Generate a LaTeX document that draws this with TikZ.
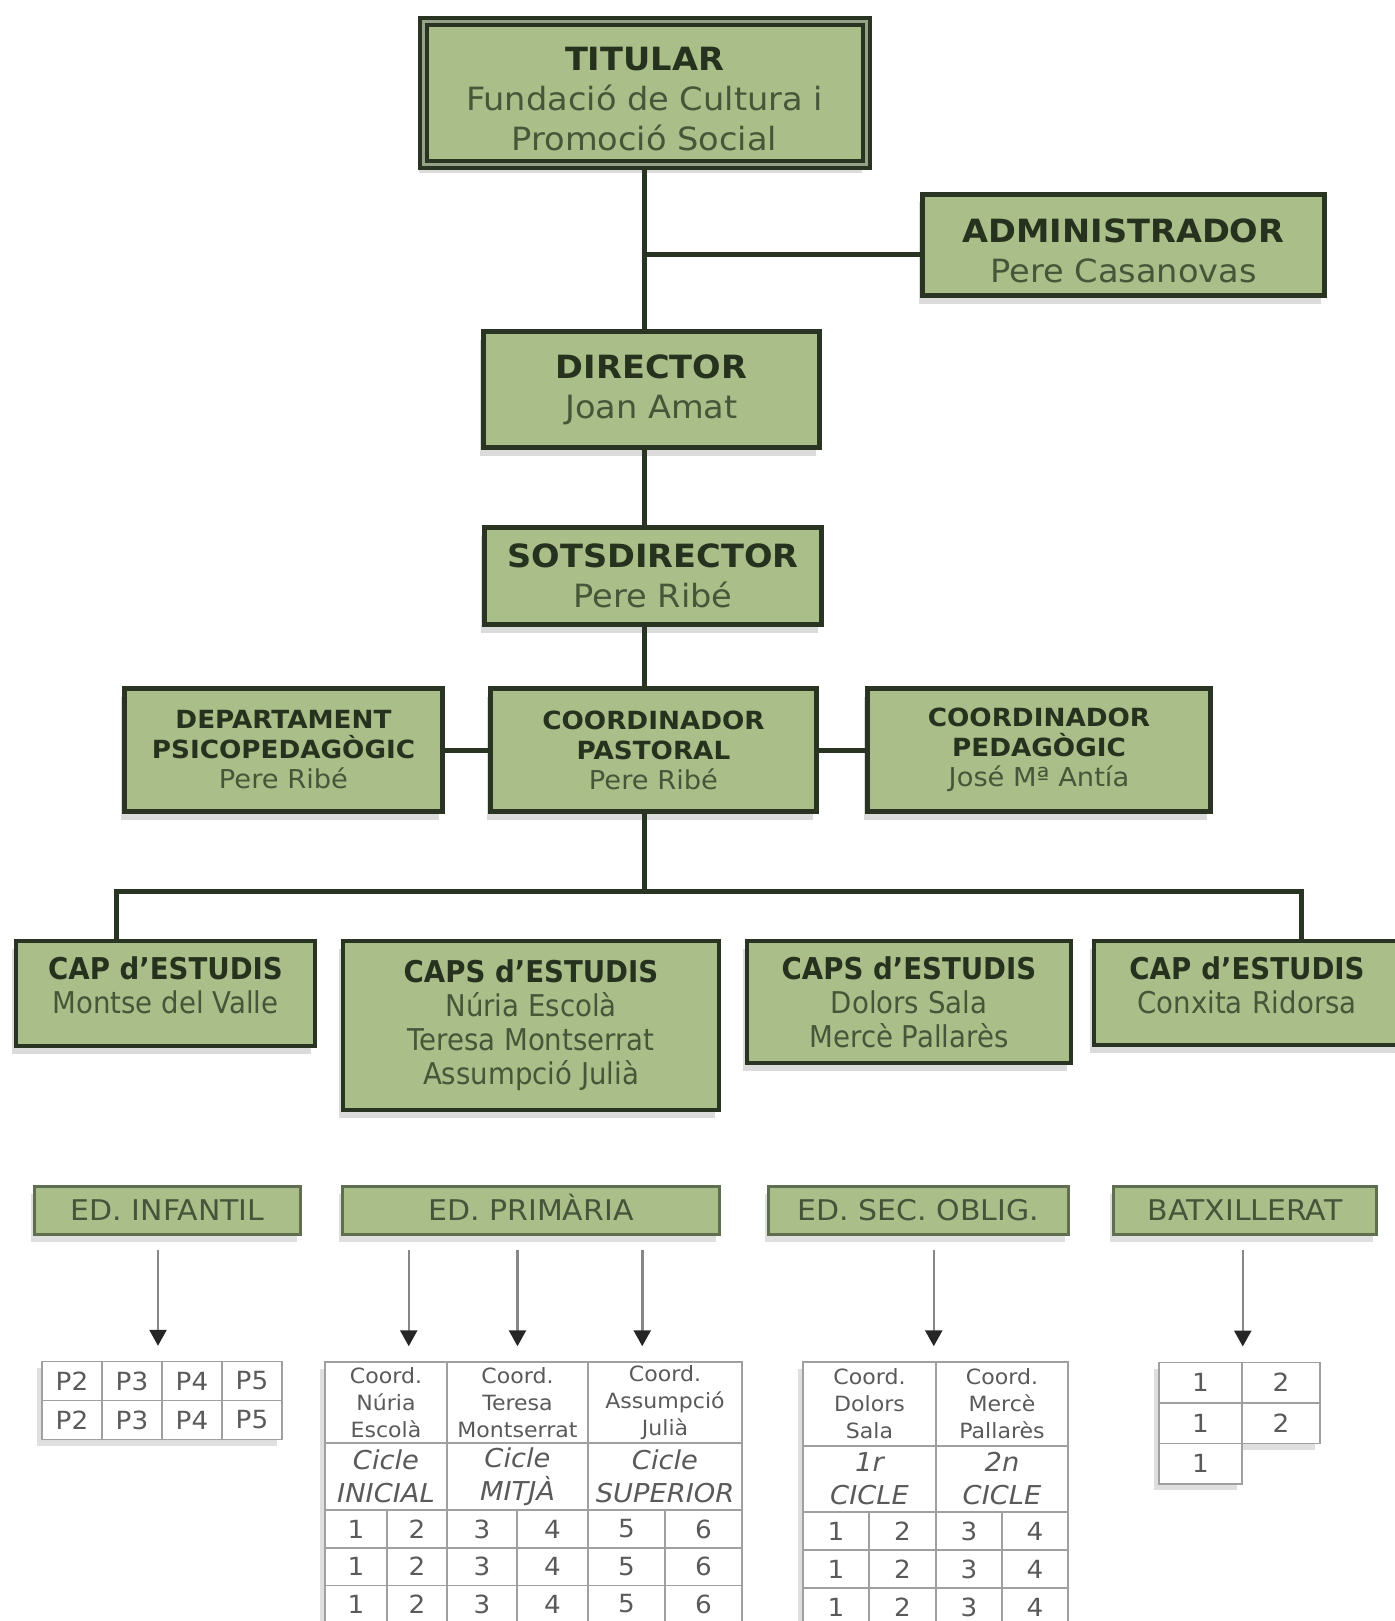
\documentclass[tikz,border=0pt]{standalone}
\usepackage{fontspec}
\setmainfont{DejaVu Sans}[FakeStretch=1.05]
\newfontfamily\capfont[FakeStretch=0.92]{DejaVu Sans}
\usetikzlibrary{arrows.meta,shadows}
\definecolor{boxfill}{RGB}{169,190,137}
\definecolor{boxline}{RGB}{42,52,34}
\definecolor{bandgray}{RGB}{150,162,136}
\definecolor{titletext}{RGB}{38,50,30}
\definecolor{nametext}{RGB}{70,86,56}
\definecolor{edline}{RGB}{96,110,80}
\definecolor{edtext}{RGB}{70,84,58}
\definecolor{gridgray}{RGB}{160,160,160}
\definecolor{celltext}{RGB}{90,90,90}
\definecolor{arrowgray}{RGB}{135,135,135}
\newcommand{\ttl}[1]{\textcolor{titletext}{\bfseries #1}}
\newcommand{\nm}[1]{{\fontsize{26}{30}\selectfont #1}}
\tikzset{orgbox/.style={draw=boxline,fill=boxfill,line width=4.5pt,align=center,
        inner sep=0pt,text=nametext,
        drop shadow={shadow xshift=-4pt,shadow yshift=-8pt,opacity=.28}},
    bigbox/.style={orgbox,font=\fontsize{32}{40}\selectfont},
    titlebox/.style={bigbox,line width=4pt,double=bandgray,double distance=3pt},
    midbox/.style={orgbox,font=\fontsize{25}{30}\selectfont},
    capbox/.style={orgbox,line width=4pt,font=\capfont\fontsize{30}{34}\selectfont},
    edbox/.style={draw=edline,fill=boxfill,line width=3pt,inner sep=0pt,text=edtext,
        font=\fontsize{28.5}{30}\selectfont,text height=21pt,text depth=1pt,
        drop shadow={shadow xshift=-4pt,shadow yshift=-7pt,opacity=.25}},
    link/.style={draw=boxline,line width=5pt},
    arr/.style={draw=arrowgray,line width=2.5pt,shorten <=14pt,shorten >=15pt,
        -{Triangle[width=17pt,length=16pt,color=black!85]}},
    tabframe/.style={fill=white,inner sep=0pt,
        drop shadow={shadow xshift=-5pt,shadow yshift=-7pt,opacity=.25}},
    cell/.style={draw=gridgray,line width=1.5pt,inner sep=0pt,text=celltext,align=center,
        font=\fontsize{25}{30}\selectfont},
    coordcell/.style={cell,font=\fontsize{21}{27}\selectfont},
    ciclecell/.style={cell,font=\itshape\fontsize{26}{33}\selectfont}}

\begin{document}
\begin{tikzpicture}[x=1pt,y=-1pt]
\useasboundingbox[fill=white] (0,0) rectangle (1394,1621);

% upper chart
\node[titlebox,minimum width=443pt,minimum height=143pt] (titular) at (644.5,93.5)
    {\rule{0pt}{34pt}\ttl{TITULAR}\\Fundació de Cultura i\\Promoció Social};
\node[bigbox,minimum width=402pt,minimum height=101pt] (admin) at (1123.5,245)
    {\rule{0pt}{36pt}\ttl{ADMINISTRADOR}\\Pere Casanovas};
\node[bigbox,minimum width=336pt,minimum height=116pt] (director) at (651.5,389.5)
    {\ttl{DIRECTOR}\\Joan Amat};
\node[bigbox,minimum width=337pt,minimum height=97pt] (sotsdir) at (653,576)
    {\ttl{SOTSDIRECTOR}\\Pere Ribé};
\node[midbox,minimum width=318pt,minimum height=123pt] (dept) at (283.5,750)
    {\ttl{DEPARTAMENT}\\\ttl{PSICOPEDAGÒGIC}\\\nm{Pere Ribé}};
\node[midbox,minimum width=326pt,minimum height=123pt] (pastoral) at (653.5,750)
    {\ttl{COORDINADOR}\\\ttl{PASTORAL}\\\nm{Pere Ribé}};
\node[midbox,minimum width=343pt,minimum height=123pt] (pedag) at (1039,750)
    {\ttl{COORDINADOR}\\\ttl{PEDAGÒGIC}\\\nm{José Mª Antía}};

\node[capbox,minimum width=299pt,minimum height=105pt] (capmontse) at (165.5,993.5)
    {\ttl{CAP d’ESTUDIS}\\Montse del Valle\\[-18pt]\mbox{}};
\node[capbox,minimum width=376pt,minimum height=169pt] (capsnuria) at (531,1025.5)
    {\ttl{CAPS d’ESTUDIS}\\Núria Escolà\\Teresa Montserrat\\Assumpció Julià};
\node[capbox,minimum width=324pt,minimum height=122pt] (capsdolors) at (909,1002)
    {\ttl{CAPS d’ESTUDIS}\\Dolors Sala\\Mercè Pallarès};
\node[capbox,minimum width=320pt,minimum height=104pt,text width=300pt] (capconxita) at (1254,993)
    {\hspace*{-14pt}\ttl{CAP d’ESTUDIS}\\\hspace*{-14pt}Conxita Ridorsa\\[-18pt]\mbox{}};

% connectors
\coordinate (adminjoin) at ([yshift=-10pt]titular.south |- admin.west);
\coordinate (busl) at (116,891);
\coordinate (busr) at (1301,891);
\draw[link] (titular.south) -- (titular.south |- director.north);
\draw[link] (adminjoin) -- (adminjoin -| admin.west);
\draw[link] (titular.south |- director.south) -- (titular.south |- sotsdir.north);
\draw[link] (titular.south |- sotsdir.south) -- (titular.south |- pastoral.north);
\draw[link] (dept) -- (pastoral);
\draw[link] (pastoral) -- (pedag);
\draw[link] (titular.south |- pastoral.south) -- (titular.south |- busl);
\draw[link] (busl |- capmontse.north) -- (busl) -- (busr) -- (busr |- capconxita.north);

% stages
\node[edbox,minimum width=266pt,minimum height=48pt] (infantil) at (167.5,1210.5) {ED. INFANTIL};
\node[edbox,minimum width=377pt,minimum height=48pt] (primaria) at (531,1210.5) {ED. PRIMÀRIA};
\node[edbox,minimum width=300pt,minimum height=48pt] (eso) at (918.5,1210.5) {ED. SEC. OBLIG.};
\node[edbox,minimum width=263pt,minimum height=48pt] (batx) at (1245,1210.5) {BATXILLERAT};

% infantil
\node[tabframe,minimum width=240pt,minimum height=78pt] (inftab) at (162,1400) {};
\foreach \lab [count=\i from 0] in {P2,P3,P4,P5}
    \foreach \r in {0,1}
        \node[cell,minimum width=60pt,minimum height=39pt] (inf-\i-\r) at (72+60*\i,1381+39*\r) {\lab};

% primaria
\node[tabframe,minimum width=417pt,minimum height=263pt] (primtab) at (533.5,1493.5) {};
\node[coordcell,minimum width=122pt,minimum height=81pt] (prim-c1) at (386,1402.5) {Coord.\\Núria\\Escolà};
\node[coordcell,minimum width=141pt,minimum height=81pt] (prim-c2) at (517.5,1402.5) {Coord.\\Teresa\\Montserrat};
\node[coordcell,minimum width=154pt,minimum height=81pt] (prim-c3) at (665,1402.5) {Coord.\\Assumpció\\Julià};
\node[ciclecell,minimum width=122pt,minimum height=67pt] (prim-k1) at (386,1476.5) {Cicle\\INICIAL};
\node[ciclecell,minimum width=141pt,minimum height=67pt] (prim-k2) at (517.5,1476.5) {Cicle\\MITJÀ};
\node[ciclecell,minimum width=154pt,minimum height=67pt] (prim-k3) at (665,1476.5) {Cicle\\SUPERIOR};
\foreach \x/\w/\n in {356/62/1,417/60/2,482/70/3,552.5/71/4,626.5/77/5,703.5/77/6}
    \foreach \r in {0,1,2}
        \node[cell,minimum width=\w pt,minimum height=37.5pt] (prim-\n-\r) at (\x,1529+37.5*\r) {\n};

% eso
\node[tabframe,minimum width=265pt,minimum height=264pt] (esotab) at (935.5,1494) {};
\node[coordcell,minimum width=133pt,minimum height=84pt] (eso-c1) at (869.5,1404) {Coord.\\Dolors\\Sala};
\node[coordcell,minimum width=132pt,minimum height=84pt] (eso-c2) at (1002,1404) {Coord.\\Mercè\\Pallarès};
\node[ciclecell,minimum width=133pt,minimum height=66pt] (eso-k1) at (869.5,1479) {1r\\CICLE};
\node[ciclecell,minimum width=132pt,minimum height=66pt] (eso-k2) at (1002,1479) {2n\\CICLE};
\foreach \x/\w/\n in {836/66/1,902.5/67/2,969/66/3,1035/66/4}
    \foreach \r in {0,1,2}
        \node[cell,minimum width=\w pt,minimum height=38pt] (eso-\n-\r) at (\x,1531+38*\r) {\n};

% batxillerat
\node[tabframe,minimum width=78pt,minimum height=81pt] (batxtabr) at (1281,1402.5) {};
\node[tabframe,minimum width=83pt,minimum height=121pt] (batxtab) at (1200.5,1422.5) {};
\foreach \r in {0,1,2}
    \node[cell,minimum width=83pt,minimum height=40.5pt] (batxl-\r) at (1200.5,1382.5+40.5*\r) {1};
\foreach \r in {0,1}
    \node[cell,minimum width=78pt,minimum height=40.5pt] (batxr-\r) at (1281,1382.5+40.5*\r) {2};

% arrows
\coordinate (infin) at ([xshift=-4pt]inftab.north);
\coordinate (primin1) at ([xshift=-39pt]prim-c1.north east);
\coordinate (primin3) at ([xshift=55pt]prim-c3.north west);
\coordinate (esoin) at ([xshift=-3pt]eso-c1.north east);
\draw[arr] (infantil.south -| infin) -- (infin);
\draw[arr] (primaria.south -| primin1) -- (primin1);
\draw[arr] (primaria.south -| prim-c2) -- (prim-c2.north);
\draw[arr] (primaria.south -| primin3) -- (primin3);
\draw[arr] (eso.south -| esoin) -- (esoin);
\draw[arr] (batx.south -| batxl-0.north east) -- (batxl-0.north east);
\end{tikzpicture}
\end{document}
